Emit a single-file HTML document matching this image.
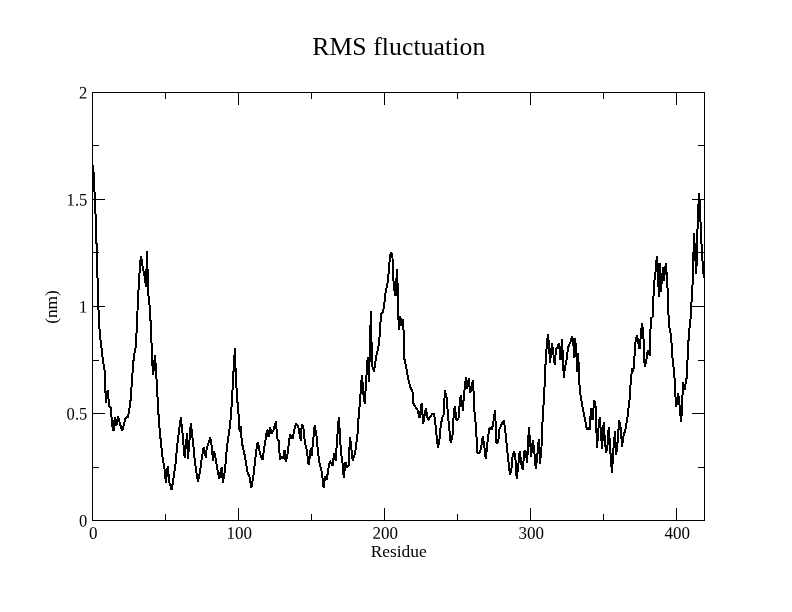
<!DOCTYPE html>
<html lang="en">
<head>
<meta charset="utf-8">
<title>RMS fluctuation</title>
<style>
html,body{margin:0;padding:0;background:#fff;}
body{width:792px;height:612px;overflow:hidden;}
svg{display:block;}
text{font-family:"Liberation Serif","Times New Roman",serif;fill:#000;}
.lab text{font-size:17.6px;}
</style>
</head>
<body>
<svg width="792" height="612" viewBox="0 0 792 612">
<rect x="0" y="0" width="792" height="612" fill="#fff"/>
<text x="398.8" y="55" text-anchor="middle" font-size="25.7" letter-spacing="0.085">RMS fluctuation</text>
<polyline fill="none" stroke="#000" stroke-width="2" stroke-linejoin="bevel" stroke-linecap="butt" shape-rendering="crispEdges" points="93.2,165 93.7,176 94.7,196 95.7,218 96.7,249 97.6,281 98.5,310 99.5,329 100.5,340 101.7,350 103,361 104.7,371 105.2,387 106,403 107.7,390 109.2,406 110.8,408 112.2,426 113.5,431 114.7,417.5 116.3,426 118,416.7 119.7,423 122.2,431 125.5,418 128,416.7 129.7,406.7 131,396.7 131.7,384 132.7,371 133.8,357 135.5,348 136.3,338 137,322 137.8,304 138.7,287 139.5,273 140.3,262 141,256 142,262 143,269 144.5,276 146,287 147,251 147.8,278 148.5,296 149.8,308 150.6,322 151.4,340 152.3,363 153.1,375 155,354.7 156,370 157.3,393 158.3,411.7 159.8,432 162.5,456.7 164.7,470 165.8,482.5 167.8,466 169.2,481.7 171.7,490 174.2,473 175.8,461.7 177,446.7 178.3,436.7 180.8,417.5 182.5,433 184.7,458.3 187,433.3 188,459 190.8,423.3 193,441.7 194.2,455 195.8,468.3 198,482 200,471.7 201.7,459 203.7,446.7 205.8,457.5 206.7,448.3 210.3,437.5 212,448.3 213,460.8 214.2,450.8 215.8,460 217.5,470 219.2,479 221.7,466.7 222.8,482.5 225,470 226.7,450 228.3,437 229.2,432 230.6,419 231.8,404 233.2,377 234.2,360 235,348 235.7,375 236.6,389 237.7,405 239,420 239.6,431.7 240.5,426 242,443.3 245,456.7 247.5,471.7 250,478.3 251.2,488.3 253.3,476.7 255,461.7 256.2,450.8 257.8,441.7 260,453.3 262.5,460 264.2,448.3 265.8,438.3 267,429.7 268.5,436.7 270,426.7 271.3,434 273.3,431 276,421.3 277.2,438.3 278.7,440.8 280,460 281.7,456.7 283,459 284.5,450.3 285.8,462 287.5,454 288.7,445 290,434.7 292.5,439 294.2,430 295.8,423.7 298.3,426.7 300.8,440.8 301.7,424.7 303.3,426.7 305,443.3 306.7,450 308.7,465 310.8,448.3 311.7,455.8 313.3,439 314.7,425.3 316.7,436.7 317.8,450 319.5,463.3 321.7,471.7 323.7,488.3 325,476.7 326.7,480 328.7,466.7 330,460.8 332.5,465.8 334.2,453.3 335.8,460.8 337,440 338.8,417.5 340,435.8 340.8,450 342.5,463.3 343.8,478 345.5,462.5 346.7,467.5 348.7,465 350,436.7 351.3,448.3 352.8,460.8 355,453.3 356.3,444.2 357.5,434.2 358.4,420 359.5,407 360.3,397 361,386 362,375 363.3,393 364.7,403.5 366.2,380 367.7,357.5 369,382 370.9,310.8 372,365 374,371.5 376.3,355.8 378.3,348.3 379.7,335.8 381,314 383,312.5 384.5,302 385.6,292 387.3,284.5 388.6,273.5 389.5,262 390.3,255 391.2,252 392.5,258.3 393.3,278.3 394.3,290 395.6,296 397,269.2 398,295 398.3,314.5 398.9,329.5 400.3,316 401.3,325.8 403,319 403.8,336.7 404.2,358.3 405.8,365 407.5,375 409.2,383.3 410.8,388.3 412.5,391.7 413.3,403.3 415.3,406.7 417.5,410 419.5,418 421.7,403.3 423.2,424 425.8,408.5 428,420 430,417.5 432.5,413.5 434.2,414.2 435.5,425 436.7,436.7 438,448.3 439.7,438.3 440.8,425 442.5,416.7 443.5,415 445,390.5 446.7,398.3 447.7,411.7 449.2,428.3 450.8,443.3 452.5,435 453.3,420 454.7,406.5 456.7,420.8 458.5,418 459.5,406.7 460.8,395 463,410.8 463.8,395 465,386.7 465.9,377.5 467.2,389 468.7,378.3 470.2,393 472.8,380.3 473.7,393.3 474.5,411.7 475.8,425 476.7,440 477.5,452.5 480,452.5 481.3,446.7 482.8,435.8 484.5,448.3 485.8,459.2 487,446.7 488.3,435 489.5,428 492,429.2 493.3,422.5 495,410.3 495.8,426.7 496.3,443.3 498.3,441.7 499.2,430 500.8,426 502.5,422.5 503.8,420.3 505,428 506,438 507.5,452.5 508.7,464 510,475.3 511.7,466.7 512.5,456.7 514.2,451.3 515.5,460 516.7,479.2 518.3,465 519.7,450.8 521.2,463.3 522.8,470 524.2,451.7 525.8,450.8 527,463 528,448 528.8,427.5 530,440 531.2,456.7 532.8,440 534.2,450 535.8,469.2 537.5,453.3 538.8,439.2 540,464.2 541.5,447 542.3,426 543.7,402 544.6,385 545.3,368 546.2,353 547.1,342 548,334 549,345 550,362.7 552,343 553.5,355 554.8,364.7 556,349 557.5,347 559,343 560.5,360 562,339 563,360 563.8,377.5 565,367 566.5,360 568,348 569,345 569.5,344 571,341 572,336 573.3,342 574.2,358 575,338 576.3,350 577,372 578,353 579,370 579.7,390 581.7,402.5 583.3,410.8 585,419.2 586.7,429.2 588.3,427.5 590,430 590.8,408.3 592.5,420 594.2,399.7 595.5,405.8 596.3,427.5 597,447.5 598.3,430 599.7,417.5 600.8,430 602,449.2 603.7,422.5 605,441.7 606.2,453.3 607.5,445 608.7,427.5 610,445 610.8,458.3 612,473.3 613.3,450 615,431.3 616.2,455 617.5,443.3 619.2,420.3 620.8,428.3 622,446.7 623.3,436.7 625.8,428.3 627.5,416.7 628.5,408 629.5,400 630.3,388.3 631.3,375 632.5,368.3 633.3,372 634.2,361.7 635,346.7 635.8,340 637,335.3 638.3,343.3 639.7,349.2 640.8,335.8 642,323.3 643.3,331.7 643.7,345 644.2,360 645,367 646.7,358.3 647.8,350 649.7,355.8 650.3,336.7 650.8,318.3 652.5,317 653.3,300 654.2,282 655.3,275 656,266 656.9,256.2 658,268 658.8,296.7 660,263.3 660.9,291.7 663,266.7 663.8,281 665.8,263.3 667,278 667.6,290 668.4,313.3 669.5,328.3 671.2,335.8 671.7,346.7 672.5,358.3 673.7,368.3 674.7,380.8 675.5,396.7 676.3,406.7 678,393.3 679.2,400 680,411.7 681.2,422 682.2,403.3 683,382.5 684.5,390 686.6,378 687.4,362 688.2,345 689.2,331 690.6,318 691.6,300 692.8,280 694,233 696.2,274 697.2,250 697.7,217 699.2,193 700.3,217 701.2,238 702.2,257 703.3,272 704,278"/>
<rect x="92.5" y="92.5" width="612.0" height="428.0" fill="none" stroke="#000" stroke-width="1" shape-rendering="crispEdges"/>
<path d="M165.5 520.5v-7M165.5 92.5v6M238.5 520.5v-13M238.5 92.5v12M311.5 520.5v-7M311.5 92.5v6M384.5 520.5v-13M384.5 92.5v12M457.5 520.5v-7M457.5 92.5v6M530.5 520.5v-13M530.5 92.5v12M603.5 520.5v-7M603.5 92.5v6M676.5 520.5v-13M676.5 92.5v12M92.5 467.5h6M704.5 467.5h-7M92.5 413.5h12M704.5 413.5h-13M92.5 360.5h6M704.5 360.5h-7M92.5 306.5h12M704.5 306.5h-13M92.5 252.5h6M704.5 252.5h-7M92.5 199.5h12M704.5 199.5h-13M92.5 145.5h6M704.5 145.5h-7" fill="none" stroke="#000" stroke-width="1" shape-rendering="crispEdges"/>
<g class="lab"><text transform="translate(93.2 538.7) rotate(0.03) scale(0.965 1)" text-anchor="middle">0</text><text transform="translate(239.2 538.7) rotate(0.03) scale(0.965 1)" text-anchor="middle">100</text><text transform="translate(385.2 538.7) rotate(0.03) scale(0.965 1)" text-anchor="middle">200</text><text transform="translate(531.2 538.7) rotate(0.03) scale(0.965 1)" text-anchor="middle">300</text><text transform="translate(677.2 538.7) rotate(0.03) scale(0.965 1)" text-anchor="middle">400</text><text transform="translate(87.3 526.6) rotate(0.03) scale(0.94 1)" text-anchor="end">0</text><text transform="translate(87.3 419.6) rotate(0.03) scale(0.94 1)" text-anchor="end">0.5</text><text transform="translate(87.3 312.6) rotate(0.03) scale(0.94 1)" text-anchor="end">1</text><text transform="translate(87.3 205.6) rotate(0.03) scale(0.94 1)" text-anchor="end">1.5</text><text transform="translate(87.3 98.6) rotate(0.03) scale(0.94 1)" text-anchor="end">2</text></g>
<text x="398.7" y="557" text-anchor="middle" font-size="17.4">Residue</text>
<text transform="translate(57 307) rotate(-90)" text-anchor="middle" font-size="17.3">(nm)</text>
</svg>
</body>
</html>
